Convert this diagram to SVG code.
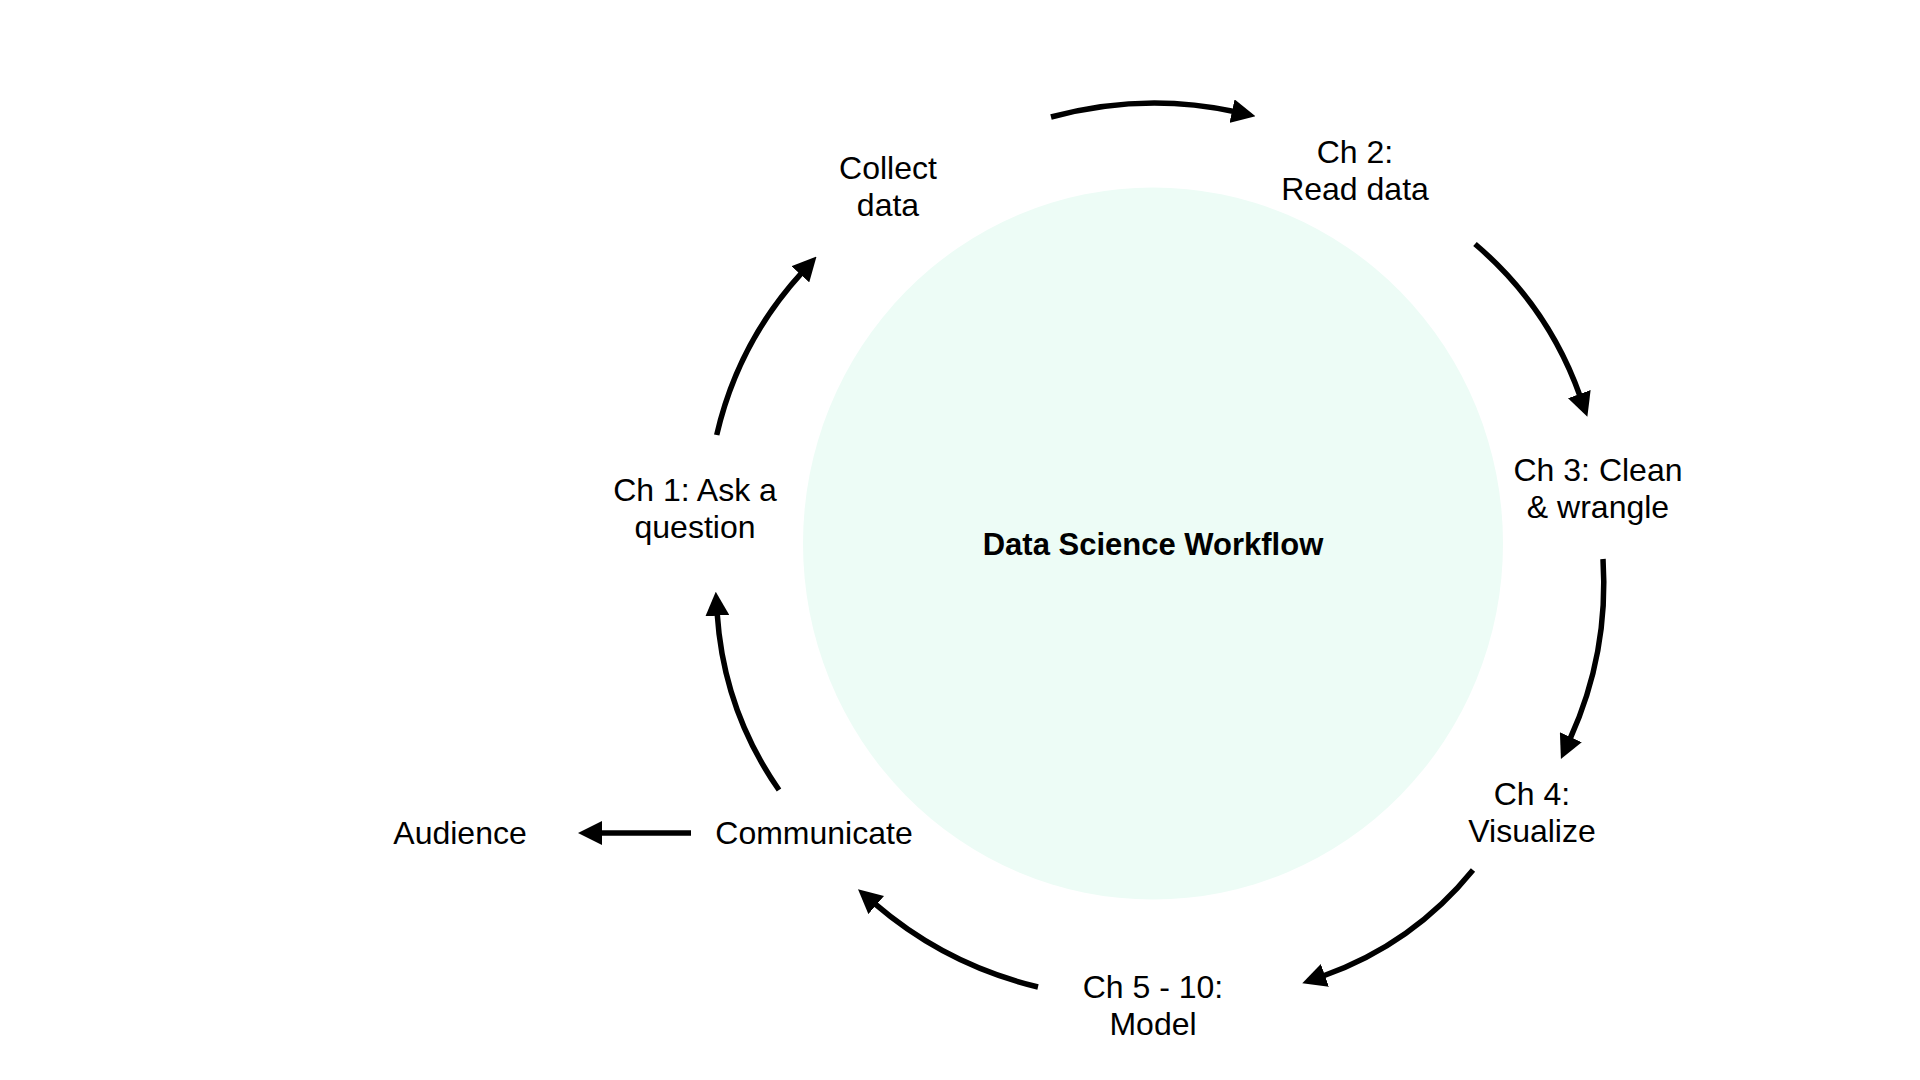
<svg xmlns="http://www.w3.org/2000/svg" width="1920" height="1080" viewBox="0 0 1920 1080">
  <style>
    .lbl { font-family: "Liberation Sans", Arial, Helvetica, sans-serif; font-size: 32px; fill: #000; text-anchor: middle; }
    .title { font-family: "Liberation Sans", Arial, Helvetica, sans-serif; font-size: 31px; font-weight: bold; fill: #000; text-anchor: middle; }
    .conn { fill: none; stroke: #000; stroke-width: 5.5; marker-end: url(#arrow); }
  </style>
  <defs>
    <marker id="arrow" markerUnits="userSpaceOnUse" viewBox="0 0 24 24" markerWidth="24" markerHeight="24" refX="2" refY="12" orient="auto">
      <path d="M0,0 L24,12 L0,24 z" fill="#000"/>
    </marker>
  </defs>
  <rect width="1920" height="1080" fill="#ffffff"/>

  <g id="center">
    <ellipse cx="1153" cy="543.5" rx="350" ry="356" fill="#edfcf6"/>
    <text class="title" x="1153" y="555">Data Science Workflow</text>
  </g>

  <g id="node-collect">
    <text class="lbl" x="888" y="179">Collect</text>
    <text class="lbl" x="888" y="216">data</text>
  </g>
  <g id="node-read">
    <text class="lbl" x="1355" y="163">Ch 2:</text>
    <text class="lbl" x="1355" y="200">Read data</text>
  </g>
  <g id="node-clean">
    <text class="lbl" x="1598" y="481">Ch 3: Clean</text>
    <text class="lbl" x="1598" y="518">&amp; wrangle</text>
  </g>
  <g id="node-visualize">
    <text class="lbl" x="1532" y="805">Ch 4:</text>
    <text class="lbl" x="1532" y="842">Visualize</text>
  </g>
  <g id="node-model">
    <text class="lbl" x="1153" y="998">Ch 5 - 10:</text>
    <text class="lbl" x="1153" y="1035">Model</text>
  </g>
  <g id="node-communicate">
    <text class="lbl" x="814" y="844">Communicate</text>
  </g>
  <g id="node-audience">
    <text class="lbl" x="460" y="844">Audience</text>
  </g>
  <g id="node-ask">
    <text class="lbl" x="695" y="501">Ch 1: Ask a</text>
    <text class="lbl" x="695" y="538">question</text>
  </g>

  <g id="connectors">
    <path class="conn" d="M1051,117 Q1143.5,92 1234,111.5"/>
    <path class="conn" d="M1475,244 Q1548,306 1580,396"/>
    <path class="conn" d="M1603,559 Q1609,653 1570,739"/>
    <path class="conn" d="M1473,870 Q1413,944 1323,976"/>
    <path class="conn" d="M1038,987 Q946,965 874.7,903.7"/>
    <path class="conn" d="M779,790 Q723.6,710.4 717.2,613.7"/>
    <path class="conn" d="M716.7,435 Q737.9,342.8 801.7,272.8"/>
    <path class="conn" d="M691,833 L600,833"/>
  </g>
</svg>
